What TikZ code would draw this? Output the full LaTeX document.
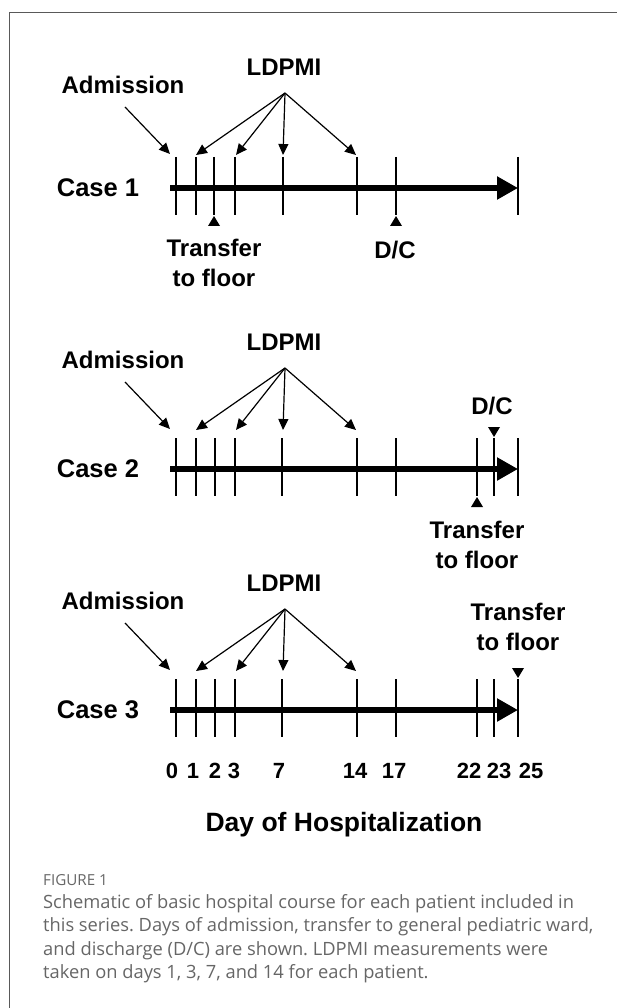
\documentclass[tikz,border=0pt]{standalone}
\usepackage{fontspec}
\setmainfont{Liberation Sans}
\newfontfamily\captionfont{Open Sans}
\usetikzlibrary{arrows.meta,positioning}
\frenchspacing

\tikzset{
  lbl/.style={font=\bfseries\fontsize{24}{30}\selectfont, inner sep=0pt, align=center},
  caselbl/.style={font=\bfseries\fontsize{25.5}{30}\selectfont, inner sep=0pt},
  daylbl/.style={font=\bfseries\fontsize{22}{25}\selectfont, inner sep=0pt, anchor=base},
  daytick/.style={line width=1.4pt},
  course/.style={line width=6pt, -{Triangle[length=21pt,width=22pt]}},
  pointer/.style={line width=1.2pt, -{Triangle[length=11pt,width=10pt]}},
  capline/.style={font=\captionfont\fontsize{18.3}{23}\selectfont, text=black!60, inner sep=0pt, anchor=base west},
}

\begin{document}
\begin{tikzpicture}[x=1pt,y=-1pt]
\useasboundingbox (0,0) rectangle (617,1008);
% frame of the panel
\draw[line width=1.5pt, black!65] (9.3,1008) -- (9.3,12.3) -- (617,12.3);

% the three cases
\foreach \n/\ry/\ty in {1/188/188,2/463/469,3/704/710} {
  \node[caselbl] (case\n) at (98,\ty) {Case \n};
  \node[lbl] (ldpmi\n) at (284,\ry-121) {LDPMI};
  \node[lbl] (adm\n) at (123,\ry-103) {Admission};
  \coordinate (fan\n) at (285,\ry-95);
  \coordinate (admfrom\n) at (125,\ry-81);
  \coordinate (admto\n) at (170,\ry-34);
  \draw[pointer] (admfrom\n) -- (admto\n);
  \foreach \dd/\xx in {1/196,3/236,7/283,14/356} {
    \coordinate (meas\n-\dd) at (\xx,\ry-33);
    \draw[pointer] (fan\n) -- (meas\n-\dd);
  }
  \coordinate (start\n) at (170,\ty);
  \coordinate (end\n) at (518,\ty);
  \draw[course] (start\n) -- (end\n);
}

% day ticks
\foreach \xx in {176,196,214,235,283,357,396,518}
  \draw[daytick] (\xx,157) -- (\xx,215);
\foreach \ty in {469,710}
  \foreach \xx in {176,196,215,235,282,357,396,477,494,518}
    \draw[daytick] (\xx,\ty-31) -- (\xx,\ty+27);

% case 1: transfer day 2, discharge day 17
\fill (214,216) -- ++(-6,10) -- ++(12,0) -- cycle;
\node[lbl] (xfer1) at (214,263) {Transfer\\to floor};
\fill (396,216) -- ++(-6,10) -- ++(12,0) -- cycle;
\node[lbl] (dc1) at (395,250) {D/C};
% case 2
\fill (477,497) -- ++(-6,10) -- ++(12,0) -- cycle;
\node[lbl] (xfer2) at (477,545) {Transfer\\to floor};
\fill (494,437) -- ++(-6,-10) -- ++(12,0) -- cycle;
\node[lbl] (dc2) at (492,406) {D/C};
% case 3
\fill (518,678) -- ++(-6,-10) -- ++(12,0) -- cycle;
\node[lbl] (xfer3) at (518,627) {Transfer\\to floor};

% axis
\foreach \dd/\xx in {0/172,1/193,2/215,3/234,7/279,14/355,17/394,22/469,23/499,25/531}
  \node[daylbl] (day\dd) at (\xx,778) {\dd};
\node[font=\bfseries\fontsize{26.5}{30}\selectfont, inner sep=0pt, anchor=base] (axistitle) at (344,831) {Day of Hospitalization};

% caption
\node[capline, font=\captionfont\fontsize{15.2}{16}\selectfont] (figno) at (43,885) {FIGURE 1};
\foreach \i/\txt in {1/{Schematic of basic hospital course for each patient included in},
  2/{this series. Days of admission, transfer to general pediatric ward,},
  3/{and discharge (D/C) are shown. LDPMI measurements were},
  4/{taken on days 1, 3, 7, and 14 for each patient.}}
  \node[capline] (cap\i) at (43,885+23.4*\i) {\txt};
\end{tikzpicture}
\end{document}
